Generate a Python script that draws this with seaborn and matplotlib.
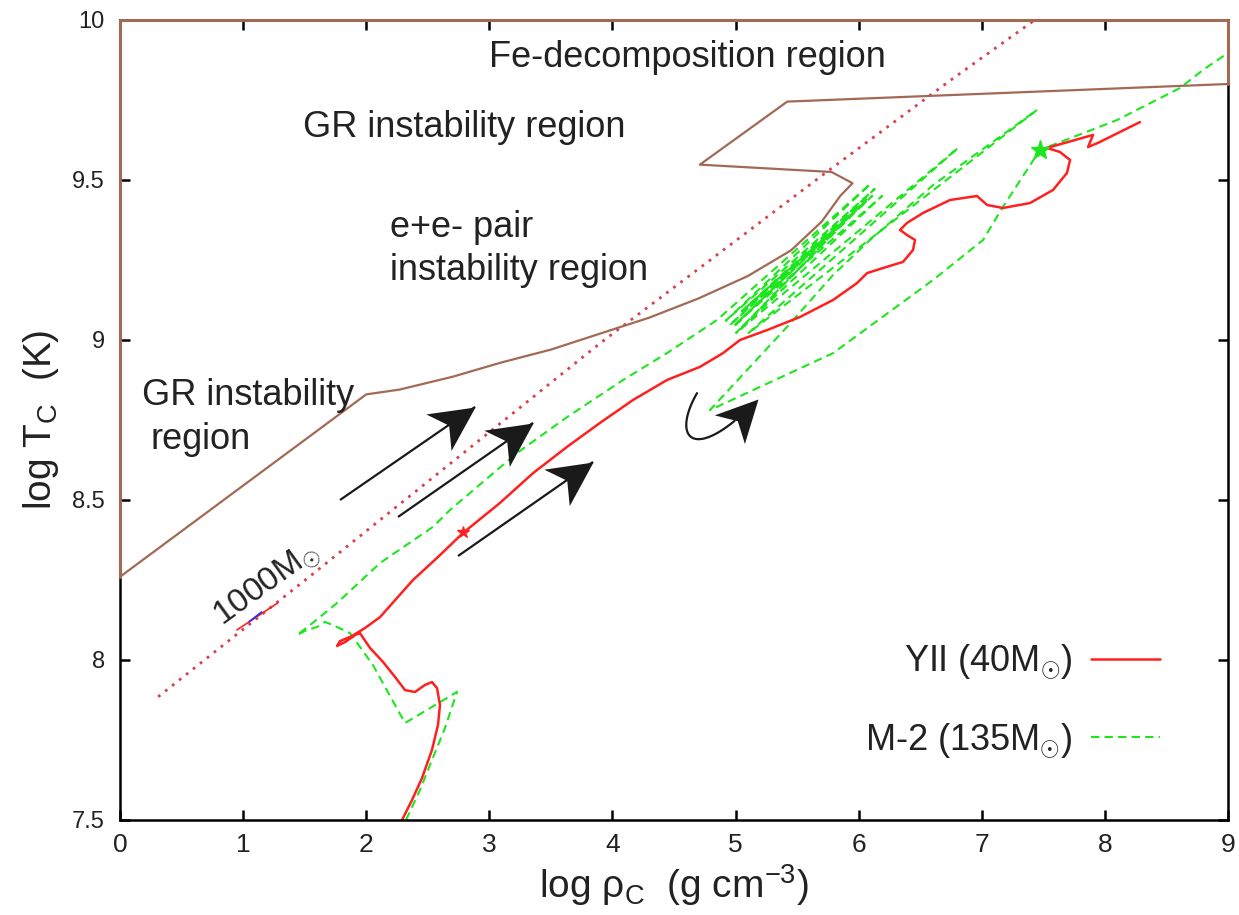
import numpy as np
import pandas as pd
import matplotlib
matplotlib.use("Agg")
import matplotlib.pyplot as plt
import seaborn as sns
from matplotlib.lines import Line2D
from matplotlib.markers import MarkerStyle
from matplotlib.path import Path
from matplotlib.transforms import Affine2D

# ---------------- data (log rho_c, log T_c) ----------------
# instability-region boundary (brown)
boundary_rho = [0.0, 2.0, 2.27, 2.7, 3.1, 3.5, 3.9, 4.3, 4.7, 5.1, 5.45, 5.7, 5.85, 5.95,
                5.78, 4.71, 5.42, 9.0]
boundary_T = [8.26, 8.83, 8.845, 8.885, 8.93, 8.97, 9.02, 9.07, 9.13, 9.2, 9.28, 9.37, 9.45, 9.49,
              9.525, 9.548, 9.745, 9.8]
frame_rho = [9.0, 9.0, 0.0, 0.0]
frame_T = [9.8, 10.0, 10.0, 8.26]

# 1000 Msun track (dotted)
m1000_rho = [0.31, 1.57, 3.9, 5.74, 6.74, 7.43]
m1000_T = [7.885, 8.27, 8.99, 9.525, 9.81, 10.0]
m1000_seg_rho = [0.95, 1.28]
m1000_seg_T = [8.094, 8.178]
m1000_blue_rho = [1.05, 1.15]
m1000_blue_T = [8.12, 8.15]

# YII (40 Msun), red solid
yii_rho = [2.291, 2.372, 2.453, 2.534, 2.583, 2.599, 2.575, 2.534, 2.477, 2.396, 2.315, 2.234,
           2.136, 2.031, 1.949, 1.909, 1.828, 1.763, 1.787, 1.885, 1.99, 2.112, 2.38, 2.6,
           2.786, 3.087, 3.355, 3.631, 3.899, 4.167, 4.443, 4.711, 4.898, 5.036, 5.256, 5.524,
           5.792, 5.987, 6.068, 6.198, 6.36, 6.441, 6.458, 6.393, 6.336, 6.393, 6.523, 6.742,
           6.961, 7.043, 7.172, 7.392, 7.579, 7.692, 7.717, 7.635, 7.53, 7.473, 7.904, 7.863,
           7.944, 8.285]
yii_T = [7.5, 7.5625, 7.631, 7.719, 7.797, 7.859, 7.9125, 7.931, 7.922, 7.9, 7.906, 7.947,
         7.994, 8.0375, 8.084, 8.078, 8.056, 8.044, 8.059, 8.075, 8.1, 8.134, 8.25, 8.328,
         8.397, 8.491, 8.584, 8.666, 8.741, 8.8125, 8.875, 8.916, 8.959, 9.0, 9.031, 9.072,
         9.125, 9.178, 9.209, 9.225, 9.244, 9.281, 9.3125, 9.328, 9.344, 9.366, 9.397, 9.4375,
         9.45, 9.422, 9.4125, 9.428, 9.469, 9.522, 9.5625, 9.5875, 9.6, 9.594, 9.641, 9.603,
         9.616, 9.681]

# M-2 (135 Msun), green dashed
m2_rho = [2.323, 2.437, 2.534, 2.64, 2.737, 2.315, 2.055, 1.949, 1.868, 1.73, 1.665, 1.6,
          1.519, 1.438, 1.543, 1.763, 2.112, 2.542, 2.681, 3.225, 3.631, 4.086, 4.443, 4.849,
          6.096, 4.92, 6.13, 4.95, 6.11, 5.0, 6.19, 5.004, 6.02, 5.05, 5.96, 4.98, 6.06,
          5.03, 6.807, 5.10, 7.449, 6.604, 6.092, 5.792, 5.418, 4.792,
          5.792, 6.604, 7.01, 7.172, 7.473, 8.099, 8.61, 8.797, 9.0]
m2_T = [7.5, 7.594, 7.6875, 7.7875, 7.9, 7.803, 7.984, 8.041, 8.084, 8.109, 8.119, 8.103,
        8.094, 8.078, 8.109, 8.178, 8.303, 8.416, 8.469, 8.647, 8.759, 8.875, 8.959, 9.0625,
        9.488, 9.06, 9.472, 9.045, 9.45, 9.05, 9.45, 9.022, 9.42, 9.09, 9.41, 9.04, 9.44,
        9.03, 9.6, 9.02, 9.719, 9.484, 9.3125, 9.203, 9.041, 8.781,
        8.959, 9.1875, 9.3125, 9.416, 9.594, 9.6875, 9.7875, 9.844, 9.897]

# markers
yii_mark = (2.79, 8.40)
m2_mark = (7.47, 9.594)

# annotation arrows (tail, tip)
arrow_tails = [(1.787, 8.50), (2.258, 8.447), (2.746, 8.325)]
arrow_tips = [(2.884, 8.791), (3.355, 8.741), (3.842, 8.619)]
# curved arrow: cubic Bezier control points
curved_ctrl_rho = [4.687, 4.468, 4.671, 5.182]
curved_ctrl_T = [8.834, 8.6875, 8.609, 8.816]

x_ticks = [0, 1, 2, 3, 4, 5, 6, 7, 8, 9]
y_ticks = [7.5, 8, 8.5, 9, 9.5, 10]
y_ticklabels = ["7.5", "8", "8.5", "9", "9.5", "10"]

# ---------------- style ----------------
sns.set_theme(style="ticks")
plt.rcParams["font.family"] = ["Liberation Sans", "DejaVu Sans"]
plt.rcParams["mathtext.fontset"] = "custom"
plt.rcParams["mathtext.rm"] = "Liberation Sans"
plt.rcParams["mathtext.it"] = "Liberation Sans"
plt.rcParams["mathtext.bf"] = "Liberation Sans:bold"

TXT = "#222222"
BROWN = "#a26a55"
RED = "#ff2020"
GREEN = "#1ee61e"
DOT = "#d8404e"
ARW = "#1a1a1a"

fig = plt.figure(figsize=(12.39, 9.15), dpi=100)
ax = fig.add_axes([120 / 1239, 95 / 915, 1108 / 1239, 800 / 915])
ax.set_xlim(0, 9)
ax.set_ylim(7.5, 10)


def track(x, y, **kw):
    df = pd.DataFrame({"rho": x, "T": y})
    sns.lineplot(data=df, x="rho", y="T", sort=False, estimator=None, errorbar=None,
                 ax=ax, legend=False, **kw)


track(m1000_rho, m1000_T, color=DOT, lw=2.0, linestyle=(0, (1, 2.2)))
track(m1000_seg_rho, m1000_seg_T, color=RED, lw=1.2)
track(m1000_blue_rho, m1000_blue_T, color="#2030ff", lw=1.2)
track(m2_rho, m2_T, color=GREEN, lw=1.5, linestyle=(0, (4, 2.5)))
track(yii_rho, yii_T, color=RED, lw=1.8)
track(boundary_rho, boundary_T, color=BROWN, lw=1.6)
track(frame_rho, frame_T, color=BROWN, lw=2.2, clip_on=False, zorder=5)

ax.plot([yii_mark[0]], [yii_mark[1]], marker="*", color=RED, ms=9, ls="none")
ax.plot([m2_mark[0]], [m2_mark[1]], marker="*", color=GREEN, ms=14, ls="none")

# ---------------- arrows ----------------
head_path = Path([(0, 0), (-1, 0.5), (-0.72, 0), (-1, -0.5), (0, 0)],
                 [Path.MOVETO, Path.LINETO, Path.LINETO, Path.LINETO, Path.CLOSEPOLY])


def head(tip, frm, ms):
    p1 = ax.transData.transform(frm)
    p2 = ax.transData.transform(tip)
    ang = np.degrees(np.arctan2(p2[1] - p1[1], p2[0] - p1[0]))
    mk = MarkerStyle(head_path, transform=Affine2D().rotate_deg(ang))
    ax.plot([tip[0]], [tip[1]], marker=mk, ms=ms, color=ARW, mec=ARW, mew=0, ls="none",
            zorder=6)


for (tx, ty), (hx, hy) in zip(arrow_tails, arrow_tips):
    ax.plot([tx, hx], [ty, hy], color=ARW, lw=1.6, zorder=6, solid_capstyle="butt")
    head((hx, hy), (tx, ty), 64)

t = np.linspace(0, 1, 60)
P = np.array([curved_ctrl_rho, curved_ctrl_T]).T
bez = ((1 - t) ** 3)[:, None] * P[0] + (3 * (1 - t) ** 2 * t)[:, None] * P[1] \
    + (3 * (1 - t) * t ** 2)[:, None] * P[2] + (t ** 3)[:, None] * P[3]
ax.plot(bez[:-8, 0], bez[:-8, 1], color=ARW, lw=1.6, zorder=6)
head(tuple(P[3]), tuple(P[2]), 60)

# ---------------- region labels ----------------
fs = 26
ax.text(4.61, 9.853, "Fe-decomposition region", fontsize=fs, color=TXT, ha="center", va="baseline")
ax.text(1.487, 9.634, "GR instability region", fontsize=fs, color=TXT, ha="left", va="baseline")
ax.text(2.193, 9.322, "e+e- pair", fontsize=fs, color=TXT, ha="left", va="baseline")
ax.text(2.193, 9.1875, "instability region", fontsize=fs, color=TXT, ha="left", va="baseline")
ax.text(0.179, 8.797, "GR instability", fontsize=fs, color=TXT, ha="left", va="baseline")
ax.text(0.25, 8.66, "region", fontsize=fs, color=TXT, ha="left", va="baseline")
ax.text(1.19, 8.235, r"1000M$_{\odot}$", fontsize=24, color=TXT, ha="center", va="center",
        rotation=36, rotation_mode="anchor")

# ---------------- axes ----------------
ax.set_xticks(x_ticks)
ax.set_xticklabels([str(v) for v in x_ticks])
ax.set_yticks(y_ticks)
ax.set_yticklabels(y_ticklabels)
ax.tick_params(direction="in", length=7, width=1.8, top=True, right=True,
               labelcolor=TXT, color="black")
ax.tick_params(axis="x", pad=9, labelsize=19)
ax.tick_params(axis="y", pad=11, labelsize=17)
for s in ax.spines.values():
    s.set_linewidth(1.8)
    s.set_color("black")

ax.set_xlabel("log ρ$_{\\mathrm{C}}$  (g cm$^{\\mathrm{-3}}$)", fontsize=28, color=TXT, labelpad=4)
ax.set_ylabel("log T$_{\\mathrm{C}}$  (K)", fontsize=28, color=TXT, labelpad=8)

handles = [Line2D([], [], color=RED, lw=1.8),
           Line2D([], [], color=GREEN, lw=1.5, linestyle=(0, (4, 2.5)))]
labels = [r"YII (40M$_{\odot}$)", r"M-2 (135M$_{\odot}$)"]
ax.legend(handles, labels, loc="lower right", bbox_to_anchor=(0.9386, 0.075),
          frameon=False, markerfirst=False, fontsize=26, handlelength=1.92,
          handletextpad=0.5, labelspacing=1.1, borderpad=0, borderaxespad=0,
          labelcolor=TXT)

fig.savefig("out.png", dpi=100)
